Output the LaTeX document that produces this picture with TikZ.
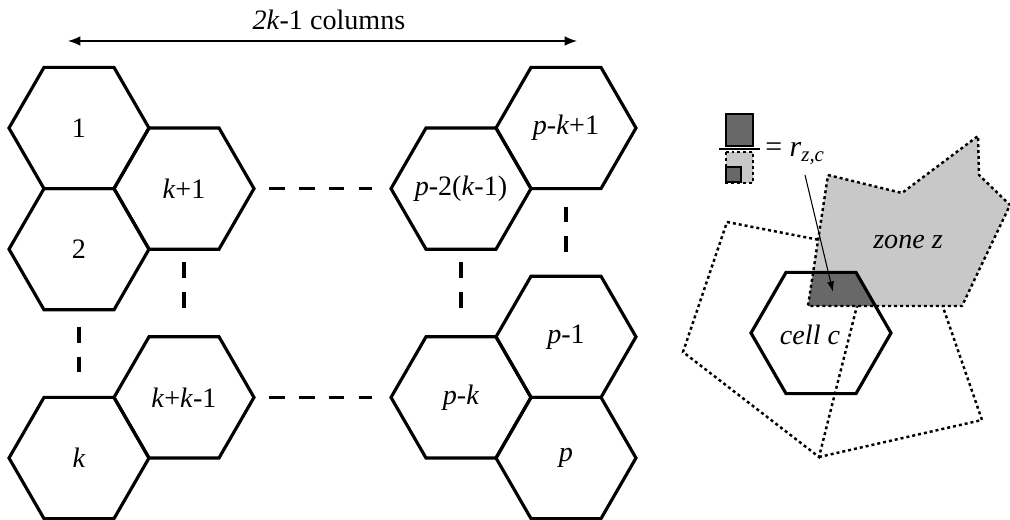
\documentclass[tikz,border=0pt]{standalone}
\usepackage{fontspec}
\setmainfont{Liberation Serif}
\usetikzlibrary{shapes.geometric,backgrounds}
\usepgflibrary{arrows.meta}
\definecolor{cellgray}{RGB}{104,104,104}
\definecolor{zonegray}{RGB}{200,200,200}
\tikzset{
    hexcell/.style={draw,line width=1.8pt,regular polygon,regular polygon sides=6,
        minimum size=2.8cm,inner sep=0pt,outer sep=0pt,label={center:#1}},
    hexcell/.default={},
    gapline/.style={line width=1.8pt,dash pattern=on 9pt off 8pt},
    zoneline/.style={line width=1.4pt,dash pattern=on 1.7pt off 1.7pt},
}

\begin{document}
\begin{tikzpicture}[x=0.02cm,y=-0.02cm,font=\fontsize{16}{19}\selectfont]
        \useasboundingbox (0,0) rectangle (1010,520);
        %列数
        \coordinate (colL) at (68,41);
        \coordinate (colR) at (577,41);
        \draw [line width=0.8pt][{Latex[length=7pt,width=5.5pt]}-{Latex[length=7pt,width=5.5pt]}] (colL) -- (colR);
        \node (cols) at (329,20) {\textit{2k}-1 columns};
        %六边形
        \node[hexcell={1}] (h1) at (79,128) {};
        \node[hexcell={2}] (h2) at (79,249.2) {};
        \node[hexcell={\textit{k}}] (hk) at (79,458) {};
        \node[hexcell={\textit{k}+1}] (hk1) at (184,188.6) {};
        \node[hexcell={\textit{k}+\textit{k}-1}] (hkk) at (184,397.4) {};
        \node[hexcell={\textit{p}-2(\textit{k}-1)}] (hp2) at (461,188.6) {};
        \node[hexcell={\textit{p}-\textit{k}}] (hpk) at (461,397.4) {};
        \node[hexcell={\textit{p}-\textit{k}+1}] (hpk1) at (566,128) {};
        \node[hexcell={\textit{p}-1}] (hp1) at (566,336.8) {};
        \node[hexcell={\textit{p}}] (hp) at (566,458) {};
        %省略
        \draw [gapline,shorten <=8.5pt,shorten >=10.8pt] (hk1) -- (hp2);
        \draw [gapline,shorten <=8.5pt,shorten >=10.8pt] (hkk) -- (hpk);
        \draw [gapline,shorten <=9.6pt,shorten >=14.2pt] (h2) -- (hk);
        \draw [gapline,shorten <=7.4pt,shorten >=15.3pt] (hk1) -- (hkk);
        \draw [gapline,shorten <=7.4pt,shorten >=15.3pt] (hp2) -- (hpk);
        \draw [gapline,shorten <=10.2pt,shorten >=11.9pt] (hpk1) -- (hp1);
        %区域与小区
        \node[hexcell] (cellc) at (821,333) {};
        \node (celltxt) at (810,335) {\textit{cell c}};
        \node (zonez) at (908,242) {\textit{zone z}};
        \begin{scope}[on background layer]
            \draw [zoneline] (727,222) -- (871,250) -- (819,457) -- (683,352) -- cycle;
            \draw [zoneline] (819,457) -- (982,420) -- (925,255) -- (871,250);
            \fill [zonegray] (828,175) -- (902,193) -- (978,136) -- (979,175) -- (1010,205) -- (962,306) -- (808,306) -- cycle;
            \begin{scope}
                \clip (828,175) -- (902,193) -- (978,136) -- (979,175) -- (1010,205) -- (962,306) -- (808,306) -- cycle;
                \fill [cellgray] (cellc.corner 1) -- (cellc.corner 2) -- (cellc.corner 3) -- (cellc.corner 4) -- (cellc.corner 5) -- (cellc.corner 6) -- cycle;
            \end{scope}
            \draw [zoneline] (828,175) -- (902,193) -- (978,136) -- (979,175) -- (1010,205) -- (962,306) -- (808,306) -- cycle;
        \end{scope}
        %比例
        \draw [line width=1.1pt,fill=cellgray] (726,114) rectangle (753,146);
        \draw [line width=0.6pt] (719,149) -- (760,149);
        \draw [zoneline,fill=zonegray] (726,152) rectangle (753,183);
        \draw [line width=1.1pt,fill=cellgray] (726,167) rectangle (741,182);
        \node[anchor=base west,inner sep=0pt,font=\fontsize{17}{20}\selectfont] (ratio) at (765,157) {= \textit{r}\textsubscript{\textit{z,c}}};
        \coordinate (ratiotail) at (805,175);
        \coordinate (overlap) at (833,292);
        \draw [line width=0.6pt][-{Latex[length=6pt,width=4pt]}] (ratiotail) -- (overlap);
\end{tikzpicture}
\end{document}
